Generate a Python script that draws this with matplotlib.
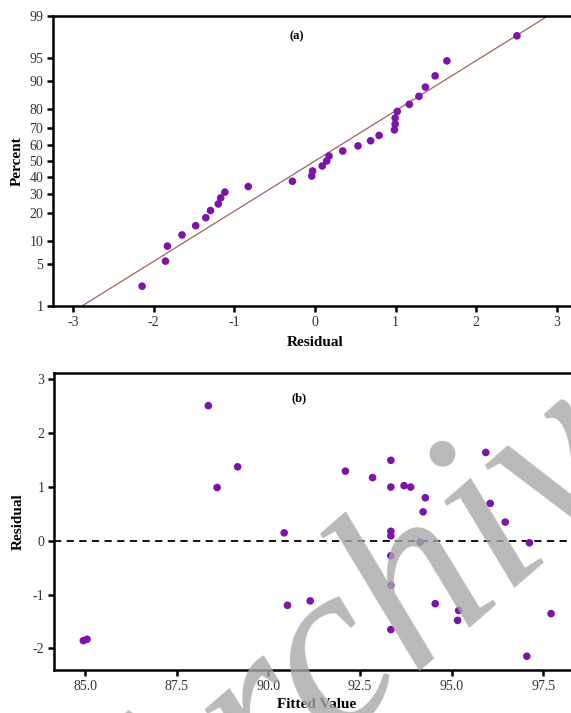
import numpy as np
import matplotlib
matplotlib.use("Agg")
import matplotlib.pyplot as plt
from statistics import NormalDist

# ---- data ----
residuals = [-2.145, -1.855, -1.83, -1.65, -1.48, -1.354, -1.296, -1.20, -1.17, -1.118,
             -0.828, -0.28, -0.04, -0.03, 0.09, 0.145, 0.174, 0.344, 0.534, 0.69,
             0.795, 0.985, 0.994, 0.994, 1.02, 1.17, 1.29, 1.37, 1.49, 1.636, 2.505]
percent = [2.23, 5.41, 8.60, 11.78, 14.97, 18.15, 21.34, 24.52, 27.71, 30.89,
           34.08, 37.26, 40.45, 43.63, 46.82, 50.00, 53.18, 56.37, 59.55, 62.74,
           65.92, 69.11, 72.29, 75.48, 78.66, 81.85, 85.03, 88.22, 91.40, 94.59, 97.77]
fitted = [97.05, 84.95, 85.05, 93.34, 95.16, 97.71, 95.19, 90.52, 94.55, 91.14,
          93.34, 93.34, 97.12, 94.14, 93.34, 90.43, 93.34, 96.46, 94.22, 96.05,
          94.28, 88.60, 93.34, 93.88, 93.70, 92.84, 92.10, 89.16, 93.34, 95.93, 88.36]
percent_ticks = [1, 5, 10, 20, 30, 40, 50, 60, 70, 80, 90, 95, 99]
residual_ticks = [-3, -2, -1, 0, 1, 2, 3]
resid_b_ticks = [-2, -1, 0, 1, 2, 3]
fitted_ticks = [85.0, 87.5, 90.0, 92.5, 95.0, 97.5]

nd = NormalDist()
_ppf = np.vectorize(lambda p: nd.inv_cdf(min(max(p / 100.0, 1e-9), 1 - 1e-9)),
                    otypes=[float])
_cdf = np.vectorize(lambda z: 100.0 * nd.cdf(z), otypes=[float])

def fwd(p):
    return _ppf(np.asarray(p, dtype=float))

def inv(z):
    return _cdf(np.asarray(z, dtype=float))

plt.rcParams['font.family'] = ['Liberation Serif', 'DejaVu Serif']

purple = '#7a14aa'
W, H = 571, 713
fig = plt.figure(figsize=(W / 100, H / 100), dpi=100)

def px_axes(l, t, r, b):
    return fig.add_axes([l / W, 1 - b / H, (r - l) / W, (b - t) / H])

def style(ax):
    for s in ['left', 'bottom', 'top']:
        ax.spines[s].set_linewidth(1.8)
    ax.spines['right'].set_visible(False)
    ax.tick_params(direction='out', length=4, width=1.8, labelsize=10,
                   labelcolor='#333333', pad=3)
    ax.tick_params(which='minor', length=0)

# ---- panel (a) ----
ax1 = px_axes(53, 16, 577, 306)
ax1.set_yscale('function', functions=(fwd, inv))
ax1.set_xlim(-3.25, 3.25)
ax1.set_ylim(1, 99)
mu = np.mean(residuals)
sd = np.std(residuals, ddof=1)
xl = np.linspace(-3.25, 3.25, 200)
ax1.plot(xl, inv((xl - mu) / sd), color='#a0655a', lw=0.9, zorder=2)
ax1.scatter(residuals, percent, s=30, color=purple, edgecolors='none', zorder=3)
ax1.set_yticks(percent_ticks)
ax1.set_yticklabels([str(p) for p in percent_ticks])
ax1.yaxis.set_minor_locator(matplotlib.ticker.NullLocator())
ax1.set_xticks(residual_ticks)
ax1.set_xticklabels([str(t) for t in residual_ticks])
style(ax1)
ax1.set_ylabel('Percent', fontsize=11, fontweight='bold', labelpad=4)
ax1.set_xlabel('Residual', fontsize=11, fontweight='bold', labelpad=5)
ax1.text(0.466, 0.931, '(a)', transform=ax1.transAxes, fontsize=9,
         fontweight='bold', ha='center', va='center')

# ---- panel (b) ----
ax2 = px_axes(54, 373, 580, 670)
ax2.set_xlim(84.15, 98.5)
ax2.set_ylim(-2.40, 3.11)
ax2.axhline(0, color='black', lw=1.3, ls=(0, (4, 3)), zorder=1)
ax2.scatter(fitted, residuals, s=30, color=purple, edgecolors='none', zorder=3)
ax2.set_xticks(fitted_ticks)
ax2.set_xticklabels([f'{t:.1f}' for t in fitted_ticks])
ax2.set_yticks(resid_b_ticks)
ax2.set_yticklabels([str(t) for t in resid_b_ticks])
style(ax2)
ax2.set_ylabel('Residual', fontsize=11, fontweight='bold', labelpad=6)
ax2.set_xlabel('Fitted Value', fontsize=11, fontweight='bold', labelpad=4)
ax2.text(0.466, 0.916, '(b)', transform=ax2.transAxes, fontsize=9,
         fontweight='bold', ha='center', va='center')

# watermark
fig.text(402 / W, 1 - 620 / H, 'Archive', fontsize=175, fontweight='normal',
         fontstyle='italic', color='#a8a8a8', alpha=0.8, rotation=41,
         ha='center', va='center', zorder=10)

fig.savefig('out.png', dpi=100)
